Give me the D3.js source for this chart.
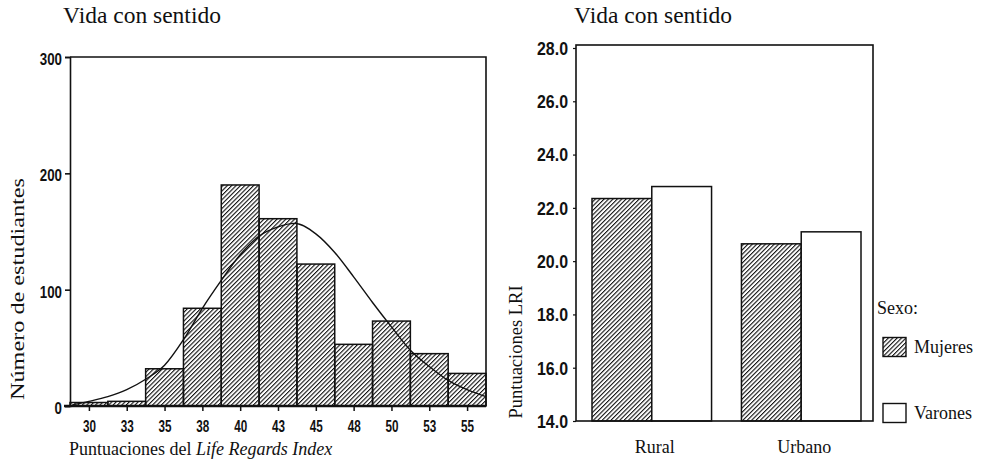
<!DOCTYPE html>
<html>
<head>
<meta charset="utf-8">
<script src="https://cdn.jsdelivr.net/npm/d3@7"></script>
<style>
  body { margin: 0; background: #fff; }
  svg { display: block; }
  .serif { font-family: "Liberation Serif", "Times New Roman", serif; fill: #111; }
  .tick-label { font-family: "Liberation Sans", Arial, sans-serif; font-weight: bold; fill: #111; }
</style>
</head>
<body>
<svg id="chart" width="983" height="463"></svg>
<script>
// --- Data ---
// Left: histogram of Life Regards Index scores
const binCenters = [30, 32.5, 35, 37.5, 40, 42.5, 45, 47.5, 50, 52.5, 55];
const binLabels = ["30", "33", "35", "38", "40", "43", "45", "48", "50", "53", "55"];
const binCounts = [3, 4, 32, 84, 190, 161, 122, 53, 73, 45, 28];
const histTicks = [0, 100, 200, 300];
// fitted normal curve
const curveScores = [28.9, 30, 31.25, 32.5, 33.75, 35, 36.25, 37.5, 38.75, 40, 41.25, 42.5, 43.6, 45, 46.25, 47.5, 48.75, 50, 51.25, 52.5, 53.75, 55, 56.25];
const curveCounts = [1, 4, 8, 14, 23, 35, 57, 84, 108, 130, 146, 154, 157, 148, 132, 111, 89, 68, 48, 34, 22, 14, 8];

// Right: mean LRI by area and sex
const areas = ["Rural", "Urbano"];
const sexes = ["Mujeres", "Varones"];
const mujeresLRI = [22.35, 20.65];
const varonesLRI = [22.8, 21.1];
const lriTicks = [14, 16, 18, 20, 22, 24, 26, 28];

const svg = d3.select("#chart");

// --- Hatch pattern ---
const defs = svg.append("defs");
defs.append("pattern")
  .attr("id", "hatch")
  .attr("patternUnits", "userSpaceOnUse")
  .attr("width", 3.1)
  .attr("height", 3.1)
  .attr("patternTransform", "rotate(45)")
  .append("line")
  .attr("x1", 0).attr("y1", 0)
  .attr("x2", 0).attr("y2", 3.1)
  .attr("stroke", "#111")
  .attr("stroke-width", 2.2);

// ================= Left chart: histogram =================
const hx = d3.scaleLinear().domain([28.75, 56.25]).range([70, 486]);
const hy = d3.scaleLinear().domain([0, 300]).range([406, 57]);
const binW = 2.5;

const left = svg.append("g");

left.append("text")
  .attr("class", "serif")
  .attr("x", 142).attr("y", 23)
  .attr("text-anchor", "middle")
  .attr("font-size", 23.5)
  .text("Vida con sentido");

// bars
left.selectAll(".bin")
  .data(binCenters)
  .join("rect")
  .attr("class", "bin")
  .attr("x", d => hx(d - binW / 2))
  .attr("width", d => hx(d + binW / 2) - hx(d - binW / 2))
  .attr("y", (d, i) => hy(binCounts[i]))
  .attr("height", (d, i) => hy(0) - hy(binCounts[i]))
  .attr("fill", "url(#hatch)")
  .attr("stroke", "#111")
  .attr("stroke-width", 1.5);

// normal curve
const curveLine = d3.line()
  .x(d => hx(d))
  .y((d, i) => hy(curveCounts[i]))
  .curve(d3.curveMonotoneX);

left.append("path")
  .attr("d", curveLine(curveScores))
  .attr("fill", "none")
  .attr("stroke", "#111")
  .attr("stroke-width", 1.4);

// frame: top and right edges
left.append("path")
  .attr("d", `M${hx.range()[0]},${hy(300)}H${hx.range()[1]}V${hy(0)}`)
  .attr("fill", "none")
  .attr("stroke", "#111")
  .attr("stroke-width", 1.6);

// y axis
const hyAxis = left.append("g")
  .attr("transform", `translate(${hx.range()[0]},0)`)
  .call(d3.axisLeft(hy).tickValues(histTicks).tickSize(5).tickPadding(3));
hyAxis.select(".domain").attr("stroke", "#111").attr("stroke-width", 1.6);
hyAxis.selectAll(".tick line").attr("stroke", "#111").attr("stroke-width", 1.6);
hyAxis.selectAll(".tick text")
  .attr("class", "tick-label")
  .attr("font-size", 17)
  .attr("textLength", d => String(d).length * 7.4)
  .attr("lengthAdjust", "spacingAndGlyphs")
  .attr("dy", "0.45em");

// x axis
const hxAxis = left.append("g")
  .attr("transform", `translate(0,${hy(0)})`)
  .call(d3.axisBottom(hx).tickValues(binCenters)
    .tickFormat((d, i) => binLabels[i]).tickSize(5).tickPadding(9));
hxAxis.select(".domain").attr("d", `M64,0H${hx.range()[1]}`)
  .attr("stroke", "#111").attr("stroke-width", 2.4);
hxAxis.selectAll(".tick line").attr("stroke", "#111").attr("stroke-width", 1.5);
hxAxis.selectAll(".tick text")
  .attr("class", "tick-label")
  .attr("font-size", 17)
  .attr("textLength", 13)
  .attr("lengthAdjust", "spacingAndGlyphs");

// axis titles
left.append("text")
  .attr("class", "serif")
  .attr("transform", "translate(24,289) rotate(-90)")
  .attr("text-anchor", "middle")
  .attr("font-size", 19)
  .attr("textLength", 222)
  .attr("lengthAdjust", "spacingAndGlyphs")
  .text("Número de estudiantes");

const xTitle = left.append("text")
  .attr("class", "serif")
  .attr("x", 69).attr("y", 455)
  .attr("font-size", 18);
xTitle.append("tspan").text("Puntuaciones del ");
xTitle.append("tspan").attr("font-style", "italic").text("Life Regards Index");

// ================= Right chart: grouped bars =================
const frame = { left: 576, right: 873, top: 45, bottom: 421 };
const bx = d3.scaleBand().domain(areas).range([592, 861]).paddingInner(0.2);
const bs = d3.scaleBand().domain(sexes).range([0, bx.bandwidth()]);
const by = d3.scaleLinear().domain([14, 28]).range([frame.bottom, 48]);
const sexFill = d3.scaleOrdinal().domain(sexes).range(["url(#hatch)", "#fff"]);

const right = svg.append("g");

right.append("text")
  .attr("class", "serif")
  .attr("x", 653).attr("y", 23)
  .attr("text-anchor", "middle")
  .attr("font-size", 23.5)
  .text("Vida con sentido");

const rows = areas.map((a, i) => ({ area: a, values: [mujeresLRI[i], varonesLRI[i]] }));

right.selectAll(".grp")
  .data(rows)
  .join("g")
  .attr("class", "grp")
  .attr("transform", d => `translate(${bx(d.area)},0)`)
  .selectAll("rect")
  .data(d => d.values.map((v, j) => ({ sex: sexes[j], v })))
  .join("rect")
  .attr("x", d => bs(d.sex))
  .attr("width", bs.bandwidth())
  .attr("y", d => by(d.v))
  .attr("height", d => frame.bottom - by(d.v))
  .attr("fill", d => sexFill(d.sex))
  .attr("stroke", "#111")
  .attr("stroke-width", 1.5);

// frame
right.append("rect")
  .attr("x", frame.left).attr("y", frame.top)
  .attr("width", frame.right - frame.left)
  .attr("height", frame.bottom - frame.top)
  .attr("fill", "none")
  .attr("stroke", "#111")
  .attr("stroke-width", 1.6);

// y axis
const byAxis = right.append("g")
  .attr("transform", `translate(${frame.left},0)`)
  .call(d3.axisLeft(by).tickValues(lriTicks).tickFormat(d3.format(".1f")).tickSize(3).tickPadding(5));
byAxis.select(".domain").remove();
byAxis.selectAll(".tick line").attr("stroke", "#111").attr("stroke-width", 1.2);
byAxis.selectAll(".tick text")
  .attr("class", "tick-label")
  .attr("font-size", 17.5)
  .attr("textLength", 31)
  .attr("lengthAdjust", "spacingAndGlyphs")
  .attr("dy", "0.36em");

// category labels
right.selectAll(".cat")
  .data(areas)
  .join("text")
  .attr("class", "cat serif")
  .attr("x", d => bx(d) + bx.bandwidth() / 2 + 3)
  .attr("y", 453)
  .attr("text-anchor", "middle")
  .attr("font-size", 18)
  .text(d => d);

right.append("text")
  .attr("class", "serif")
  .attr("transform", "translate(522,352) rotate(-90)")
  .attr("text-anchor", "middle")
  .attr("font-size", 18.5)
  .text("Puntuaciones LRI");

// legend
const legend = right.append("g");
legend.append("text")
  .attr("class", "serif")
  .attr("x", 877).attr("y", 314)
  .attr("font-size", 18)
  .text("Sexo:");

const legendY = d3.scalePoint().domain(sexes).range([347, 413]);
const items = legend.selectAll(".item")
  .data(sexes)
  .join("g")
  .attr("class", "item")
  .attr("transform", d => `translate(883,${legendY(d)})`);
items.append("rect")
  .attr("x", 0).attr("y", -9.5)
  .attr("width", 23).attr("height", 19)
  .attr("fill", d => sexFill(d))
  .attr("stroke", "#111")
  .attr("stroke-width", 1.4);
items.append("text")
  .attr("class", "serif")
  .attr("x", 31).attr("y", 6)
  .attr("font-size", 18)
  .text(d => d);
</script>
</body>
</html>
